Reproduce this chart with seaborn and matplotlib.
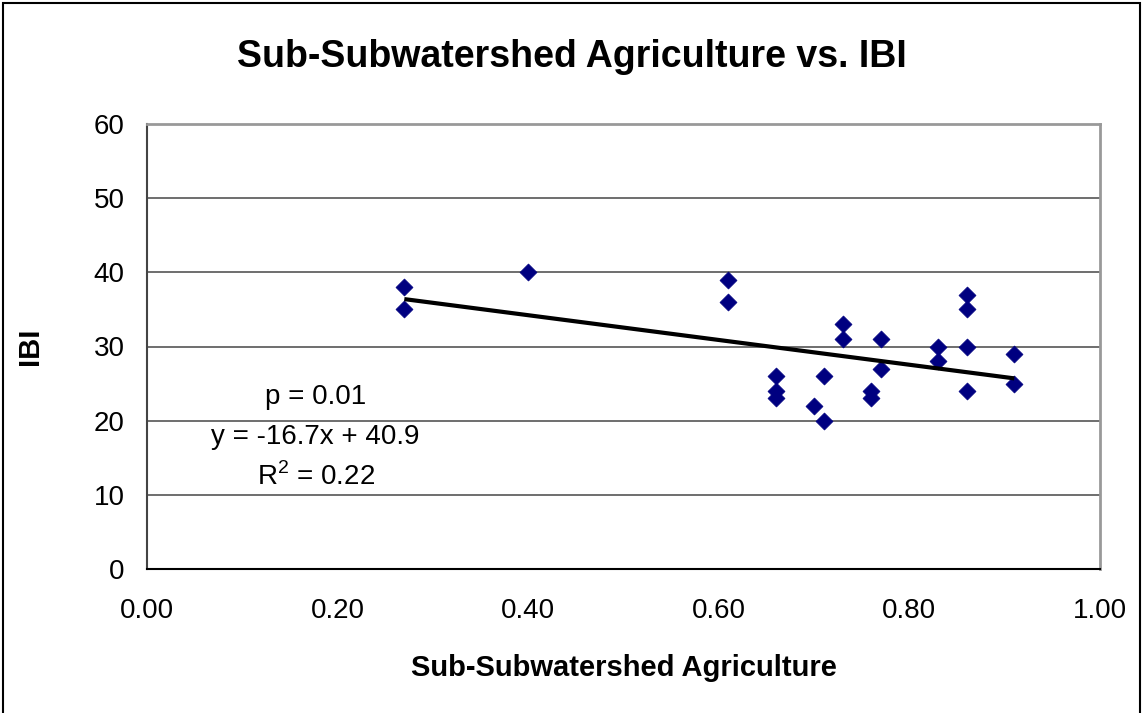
import matplotlib
matplotlib.use("Agg")
import matplotlib.pyplot as plt
from matplotlib.patches import Rectangle
import numpy as np
import pandas as pd
import seaborn as sns

# Share of agriculture in each sub-subwatershed and its IBI score
agriculture = [0.27, 0.27, 0.40, 0.61, 0.61, 0.66, 0.66, 0.66, 0.70, 0.71,
               0.71, 0.73, 0.73, 0.76, 0.76, 0.77, 0.77, 0.83, 0.83, 0.86,
               0.86, 0.86, 0.86, 0.91, 0.91]
ibi = [38, 35, 40, 39, 36, 26, 24, 23, 22, 26,
       20, 33, 31, 24, 23, 31, 27, 30, 28, 37,
       35, 30, 24, 29, 25]

# Linear fit as reported on the chart
slope, intercept = -16.7, 40.9
p_text = "p = 0.01"
eq_text = "y = -16.7x + 40.9"
r2_text = "R$^2$ = 0.22"

x_ticks = [0.0, 0.2, 0.4, 0.6, 0.8, 1.0]
y_ticks = [0, 10, 20, 30, 40, 50, 60]

df = pd.DataFrame({"Agriculture": agriculture, "IBI": ibi})

sns.set_style("white")
plt.rcParams["font.family"] = ["Liberation Sans", "DejaVu Sans"]
plt.rcParams["mathtext.fontset"] = "custom"
plt.rcParams["mathtext.rm"] = "Liberation Sans"
plt.rcParams["text.color"] = "black"
plt.rcParams["axes.labelcolor"] = "black"

W, H = 1143, 713
fig = plt.figure(figsize=(W / 100, H / 100), dpi=100)
ax = fig.add_axes([147 / W, 1 - 569 / H, (1100 - 147) / W, (569 - 124) / H])

# horizontal gridlines
for yv in y_ticks[1:]:
    ax.axhline(yv, color="#555555", lw=1.2, zorder=1)

sns.scatterplot(data=df, x="Agriculture", y="IBI", marker="D", s=75,
                color="#000080", edgecolor="#000080", linewidth=0.5,
                ax=ax, zorder=3, legend=False)

# trend line over the range of the data
xs = np.array([min(agriculture), max(agriculture)])
ax.plot(xs, slope * xs + intercept, color="black", lw=3, zorder=4,
        solid_capstyle="butt")

ax.set_xlim(0, 1.0)
ax.set_ylim(0, 60)
ax.set_xticks(x_ticks)
ax.set_xticklabels([f"{v:.2f}" for v in x_ticks])
ax.set_yticks(y_ticks)
ax.tick_params(axis="both", labelsize=20, labelcolor="black", length=8,
               width=1.2, direction="out")
ax.tick_params(axis="x", pad=21, length=0)
ax.tick_params(axis="y", pad=8, color="#555555")

for side in ["top", "right"]:
    ax.spines[side].set_color("#999999")
    ax.spines[side].set_linewidth(2)
ax.spines["left"].set_color("#444444")
ax.spines["left"].set_linewidth(1.5)
ax.spines["bottom"].set_color("black")
ax.spines["bottom"].set_linewidth(1.5)

ax.set_xlabel("Sub-Subwatershed Agriculture", fontsize=21, fontweight="bold")
ax.set_ylabel("IBI", fontsize=21, fontweight="bold")
ax.xaxis.set_label_coords(0.5, -(668 - 569) / 445, transform=ax.transAxes)
ax.xaxis.label.set_va("center")
ax.yaxis.set_label_coords(-(147 - 30) / 953, 0.5, transform=ax.transAxes)
ax.yaxis.label.set_va("center")

fig.text(0.5, 1 - 57 / H, "Sub-Subwatershed Agriculture vs. IBI",
         ha="center", va="center", fontsize=27, fontweight="bold")

px_per_unit = 445 / 60
for txt, ypix in [(p_text, 397), (eq_text, 437), (r2_text, 477)]:
    ax.text(0.177, (569 - ypix) / px_per_unit, txt, ha="center",
            va="center", fontsize=20, zorder=5)

# outer chart border
fig.patches.append(Rectangle((3 / W, -0.01), 1 - 6 / W, 1 - 3 / H + 0.01,
                             transform=fig.transFigure, fill=False,
                             edgecolor="black", lw=1.5))

fig.savefig("out.png", dpi=100)
